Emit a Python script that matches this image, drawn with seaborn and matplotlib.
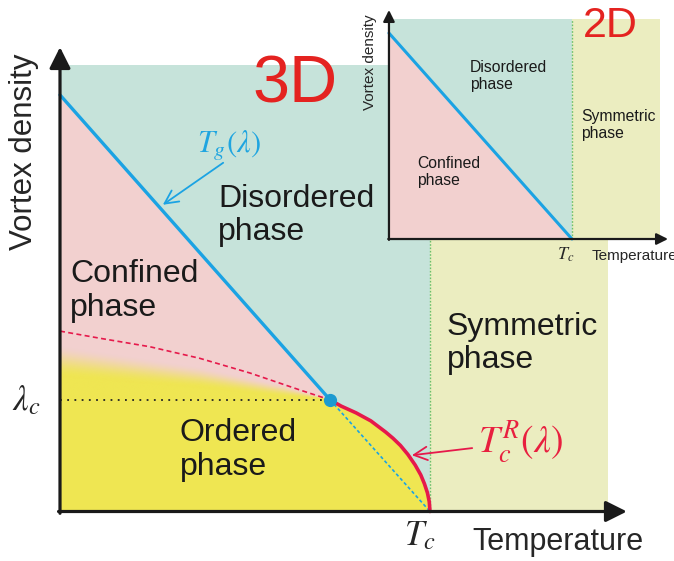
import numpy as np
import matplotlib
matplotlib.use("Agg")
import matplotlib.pyplot as plt
import seaborn as sns

# Phase boundaries, temperature in units of Tc, vortex density in units of the top of the coloured area
tg_T = [0.0, 1.0]                 # T_g(lambda) line, 3D
tg_rho = [0.933, 0.0]
tg_rho_2d = [0.936, 0.0]          # T_g line in the 2D inset
lam_c = 0.25                      # lambda_c
T_lam = 0.73                      # where T_g meets lambda_c

dash_T = [0.0, 0.108, 0.243, 0.378, 0.514, 0.649, 0.73]
dash_rho = [0.404, 0.388, 0.369, 0.343, 0.310, 0.272, 0.25]

tcr_T = [0.73, 0.76, 0.80, 0.84, 0.88, 0.90, 0.92, 0.94, 0.96, 0.975, 0.985, 0.993, 0.998, 1.0]
tcr_rho = [0.25, 0.236, 0.221, 0.203, 0.178, 0.164, 0.148, 0.128, 0.104, 0.082, 0.062, 0.042, 0.022, 0.0]

# top of the solid yellow and where the fade has reached pink
yel_T = [0.0, 0.378, 0.603, 0.73]
yel_rho = [0.301, 0.277, 0.256, 0.25]
fade_T = [0.0, 0.378, 0.603, 0.73]
fade_rho = [0.373, 0.324, 0.283, 0.25]

T_sym = 1.481      # right edge of symmetric phase
rho_top = 1.0

c_green = "#c6e3da"
c_pink = "#f2d0cf"
c_yellow = "#efe652"
c_sym = "#ebedc0"
c_blue = "#1ba3e3"
c_red = "#e6194b"
c_tc = "#6cc06c"

sns.set_style("white")
plt.rcParams["font.family"] = ["Liberation Sans", "DejaVu Sans"]
plt.rcParams["mathtext.fontset"] = "stix"


def draw_base(ax, tg_y, arrow_lw, arrow_ms):
    ax.fill_between([0, 1], [0, 0], [rho_top, rho_top], color=c_green, lw=0, zorder=0)
    ax.fill_between([1, T_sym], [0, 0], [rho_top, rho_top], color=c_sym, lw=0, zorder=0)
    ax.fill([0, 0, 1], [0, tg_y[0], 0], color=c_pink, lw=0, zorder=1)
    ax.plot([1, 1], [0, rho_top], color=c_tc, lw=1.0, ls=(0, (1.2, 1.2)), zorder=3)
    # axes with arrows
    ax.annotate("", xy=(0, xy_top[ax]), xytext=(0, -0.004),
                arrowprops=dict(arrowstyle="-|>", lw=arrow_lw, color="#1a1a1a",
                                mutation_scale=arrow_ms, shrinkA=0, shrinkB=0), zorder=6)
    ax.annotate("", xy=(xy_right[ax], 0), xytext=(-0.004, 0),
                arrowprops=dict(arrowstyle="-|>", lw=arrow_lw, color="#1a1a1a",
                                mutation_scale=arrow_ms, shrinkA=0, shrinkB=0), zorder=6)


fig = plt.figure(figsize=(6.74, 5.61), dpi=100)
ax = fig.add_axes([0, 0, 1, 1])
ax_in = fig.add_axes([0.5228, 0.5269, 0.4751, 0.4706])
ax_in.patch.set_alpha(0)
xy_top = {ax: 1.040, ax_in: 1.041}
xy_right = {ax: 1.532, ax_in: 1.525}

# ---- main 3D diagram ----
draw_base(ax, tg_rho, 2.3, 32)

# ordered phase (yellow) with a soft fade into the confined phase
ax.fill([0, 0] + yel_T[1:] + tcr_T[1:], [0] + yel_rho + tcr_rho[1:],
        color=c_yellow, lw=0, zorder=1.5)
TT, RR = np.meshgrid(np.linspace(0, T_lam, 300), np.linspace(0.24, 0.41, 200))
lo = np.interp(TT, yel_T, yel_rho)
hi = np.interp(TT, fade_T, fade_rho)
f = np.clip((hi - RR) / (hi - lo + 1e-6), 0, 1)
f = f * f * (3 - 2 * f)
img = np.zeros(TT.shape + (4,))
img[..., :3] = matplotlib.colors.to_rgb(c_yellow)
img[..., 3] = f
ax.imshow(img, extent=(0, T_lam, 0.24, 0.41), origin="lower", aspect="auto",
          interpolation="bilinear", zorder=2)

sns.lineplot(x=[0, T_lam], y=[tg_rho[0], lam_c], color=c_blue, lw=2.4, ax=ax, zorder=3)
ax.plot([T_lam, 1], [lam_c, 0], color=c_blue, lw=1.2, ls=(0, (2, 1.5)), zorder=3)
ax.plot(dash_T, dash_rho, color=c_red, lw=1.2, ls=(0, (3, 2)), zorder=3)
sns.lineplot(x=tcr_T, y=tcr_rho, color=c_red, lw=2.6, sort=False, estimator=None, ax=ax, zorder=3)
ax.plot([0, T_lam], [lam_c, lam_c], color="#222222", lw=1.3, ls=(0, (1, 3)), zorder=3)
ax.plot([T_lam], [lam_c], "o", color="#1c9ad0", ms=8.5, zorder=4)

ax.text(-0.097, 0.805, "Vortex density", rotation=90, fontsize=22.5, ha="center", va="center")
ax.text(1.114, -0.0862, "Temperature", fontsize=22, ha="left", va="baseline")
ax.text(0.973, -0.075, r"$T_c$", fontsize=25, ha="center", va="baseline")
ax.text(-0.092, 0.25, r"$\lambda_c$", fontsize=25, ha="center", va="center")
ax.text(0.634, 0.915, "3D", fontsize=48, color="#e42320", ha="center", va="baseline")
ax.text(0.37, 0.803, r"$T_g(\lambda)$", fontsize=22, color="#1fa5e0", ha="left", va="baseline")
ax.annotate("", xy=(0.278, 0.687), xytext=(0.441, 0.781),
            arrowprops=dict(arrowstyle="->", lw=1.3, color=c_blue, mutation_scale=24,
                            shrinkA=0, shrinkB=0))
ax.text(1.13, 0.131, r"$T_c^R(\lambda)$", fontsize=27, color="#e8203f", ha="left", va="baseline")
ax.annotate("", xy=(0.951, 0.126), xytext=(1.114, 0.142),
            arrowprops=dict(arrowstyle="->", lw=1.3, color=c_red, mutation_scale=24,
                            shrinkA=0, shrinkB=0))

big = dict(fontsize=23, ha="left", va="baseline", linespacing=1.15, color="#1a1a1a")
ax.text(0.427, 0.608, "Disordered\nphase", **big)
ax.text(0.027, 0.438, "Confined\nphase", **big)
ax.text(1.046, 0.321, "Symmetric\nphase", **big)
ax.text(0.324, 0.082, "Ordered\nphase", **big)

ax.set_xlim(-0.16216, 1.65946)
ax.set_ylim(-0.11086, 1.14558)
ax.axis("off")

# ---- 2D inset ----
draw_base(ax_in, tg_rho_2d, 1.6, 17)
sns.lineplot(x=tg_T, y=tg_rho_2d, color=c_blue, lw=2.2, ax=ax_in, zorder=3)
ax_in.text(-0.104, 0.805, "Vortex density", rotation=90, fontsize=11, ha="center", va="center")
ax_in.text(1.109, -0.095, "Temperature", fontsize=11, ha="left", va="baseline")
ax_in.text(0.967, -0.095, r"$T_c$", fontsize=13, ha="center", va="baseline")
ax_in.text(1.06, 0.918, "2D", fontsize=31, color="#e42320", ha="left", va="baseline")
small = dict(fontsize=11.3, ha="left", va="baseline", linespacing=1.15, color="#1a1a1a")
ax_in.text(0.443, 0.682, "Disordered\nphase", **small)
ax_in.text(0.153, 0.245, "Confined\nphase", **small)
ax_in.text(1.049, 0.459, "Symmetric\nphase", **small)
ax_in.set_xlim(-0.2, 1.55)
ax_in.set_ylim(-0.12, 1.08)
ax_in.axis("off")

fig.savefig("out.png", dpi=100)
